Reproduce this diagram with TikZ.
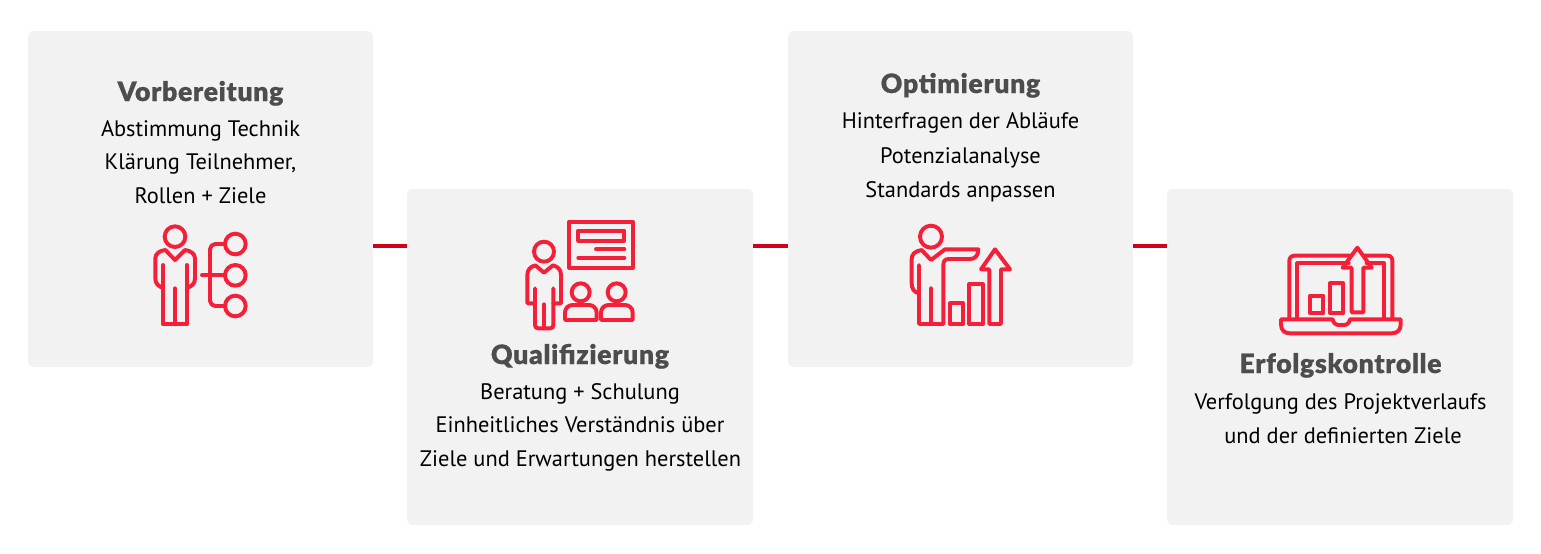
\documentclass[tikz,border=0pt]{standalone}
\usepackage{fontspec}
\setmainfont{Open Sans}
\newfontfamily\bodyfont{PT Sans}
\newfontfamily\titlefont{Lato Black}[FakeBold=0.6,LetterSpace=2.5]
\definecolor{boxgray}{HTML}{F2F2F2}
\definecolor{iconred}{HTML}{F4203A}
\definecolor{linkred}{HTML}{D0021B}
\definecolor{titlegray}{HTML}{4D4D4D}
\tikzset{
  panel/.style={fill=boxgray,rounded corners=4.5pt,minimum width=258.75pt,minimum height=252pt,inner sep=0pt,outer sep=0pt,anchor=north west},
  panelb/.style={panel,minimum width=259.5pt},
  ttl/.style={anchor=base,text=titlegray,font=\titlefont\fontsize{20}{22}\selectfont,inner sep=0pt},
  txt/.style={anchor=base,text=black,font=\bodyfont\fontsize{16.8}{21}\selectfont,inner sep=0pt},
  link/.style={draw=linkred,line width=2.4pt},
  ic/.style={draw=iconred,line width=2.95pt,line join=round,line cap=round,fill=none},
  zoomed/.style={x=.25pt,y=-.25pt}
}
\begin{document}
\begin{tikzpicture}[x=.75pt,y=-.75pt]
\useasboundingbox[fill=white] (0,0) rectangle (1541,553);
\node[panel] (b1) at (28,31) {};
\node[panelb] (b2) at (407,189) {};
\node[panel] (b3) at (788,31) {};
\node[panelb] (b4) at (1167,189) {};
\coordinate (ly) at (0,246);
\draw[link] (b1.east |- ly) -- (b2.west |- ly);
\draw[link] (b2.east |- ly) -- (b3.west |- ly);
\draw[link] (b3.east |- ly) -- (b4.west |- ly);

\node[ttl] (t1) at (200.5,101) {Vorbereitung};
\node[txt] (t1a) at (200.5,136) {Abstimmung Technik};
\node[txt] (t1b) at (200.5,169) {Klärung Teilnehmer,};
\node[txt] (t1c) at (200.5,203) {Rollen + Ziele};

\node[ttl] (t2) at (580,364) {Qualifizierung};
\node[txt] (t2a) at (580,399) {Beratung + Schulung};
\node[txt] (t2b) at (580,432) {Einheitliches Verständnis über};
\node[txt] (t2c) at (580.5,466) {Ziele und Erwartungen herstellen};

\node[ttl] (t3) at (960.5,93) {Optimierung};
\node[txt] (t3a) at (960.5,128) {Hinterfragen der Abläufe};
\node[txt] (t3b) at (960.5,163) {Potenzialanalyse};
\node[txt] (t3c) at (960.5,197) {Standards anpassen};

\node[ttl] (t4) at (1340.5,373) {Erfolgskontrolle};
\node[txt] (t4a) at (1340.5,409) {Verfolgung des Projektverlaufs};
\node[txt] (t4b) at (1343,443) {und der definierten Ziele};

% icon 1
\begin{scope}[shift={(130,210)},zoomed]
\draw[ic] (135,80) circle (31);
\draw[ic] (170,165) -- (170,343) -- (100,343) -- (100,165);
\draw[ic] (135,235) -- (135,343);
\draw[ic] (100,235) .. controls (85,228) and (76,222) .. (76,205) -- (76,145) .. controls (76,130) and (90,122) .. (106,120) -- (135,150) -- (165,120) .. controls (180,122) and (195,130) .. (195,145) -- (195,205) .. controls (195,222) and (185,228) .. (170,235);
\draw[ic] (316,102) circle (31) (316,196) circle (31) (316,288) circle (31);
\draw[ic] (216,196) -- (285,196);
\draw[ic,rounded corners=4pt] (285,102) -- (240,102) -- (240,288) -- (285,288);
\end{scope}

% icon 2
\begin{scope}[shift={(510,210)},zoomed]
\draw[ic] (178,35) rectangle (368,173);
\draw[ic] (205,62) rectangle (343,92);
\draw[ic] (258,118) -- (343,118);
\draw[ic] (205,143) -- (343,143);
\draw[ic] (102,125) circle (30);
\draw[ic] (75,235) -- (75,345) .. controls (75,352) and (78,355) .. (85,355) -- (120,355) .. controls (127,355) and (130,352) .. (130,345) -- (130,235);
\draw[ic] (102,283) -- (102,355);
\draw[ic] (75,280) -- (52,280) -- (52,195) .. controls (52,178) and (62,170) .. (76,166) -- (102,188) -- (129,166) .. controls (143,170) and (153,178) .. (153,195) -- (153,280) -- (130,280);
\draw[ic] (212,247) circle (27);
\draw[ic] (320,247) circle (27);
\draw[ic] (165,330) -- (165,308) .. controls (165,295) and (175,285) .. (188,285) -- (237,285) .. controls (250,285) and (260,295) .. (260,308) -- (260,330) -- cycle;
\draw[ic] (273,330) -- (273,308) .. controls (273,295) and (283,285) .. (296,285) -- (345,285) .. controls (358,285) and (368,295) .. (368,308) -- (368,330) -- cycle;
\end{scope}

% icon 3
\begin{scope}[shift={(895,215)},zoomed]
\draw[ic] (108,65) circle (33);
\draw[ic] (72,150) -- (72,327) -- (145,327) -- (145,150) .. controls (145,138) and (150,132) .. (162,132) -- (225,132) .. controls (240,132) and (250,122) .. (250,103) -- (150,103) -- (108,135) -- (80,105) .. controls (60,108) and (50,118) .. (50,132) -- (50,205) .. controls (50,222) and (58,232) .. (72,235);
\draw[ic] (108,220) -- (108,327);
\draw[ic] (165,265) rectangle (205,327);
\draw[ic] (223,207) rectangle (263,327);
\draw[ic] (283,327) -- (283,163) -- (258,163) -- (300,103) -- (345,163) -- (318,163) -- (318,327) -- cycle;
\end{scope}

% icon 4
\begin{scope}[shift={(1270,235)},zoomed]
\draw[ic] (58,250) -- (58,78) .. controls (58,68) and (64,62) .. (74,62) -- (240,62);
\draw[ic] (283,62) -- (352,62) .. controls (362,62) and (367,68) .. (367,78) -- (367,250);
\draw[ic] (82,250) -- (82,85) -- (236,85);
\draw[ic] (290,85) -- (343,85) -- (343,250);
\draw[ic] (245,232) -- (245,98) -- (218,98) -- (262,38) -- (305,98) -- (280,98) -- (280,232) -- cycle;
\draw[ic] (120,182) rectangle (160,235);
\draw[ic] (180,145) rectangle (220,235);
\draw[ic] (33,253) -- (188,253) .. controls (190,263) and (196,270) .. (206,270) -- (222,270) .. controls (232,270) and (238,263) .. (240,253) -- (392,253) -- (392,268) .. controls (392,285) and (382,295) .. (365,295) -- (60,295) .. controls (43,295) and (33,285) .. (33,268) -- cycle;
\end{scope}
\end{tikzpicture}
\end{document}
